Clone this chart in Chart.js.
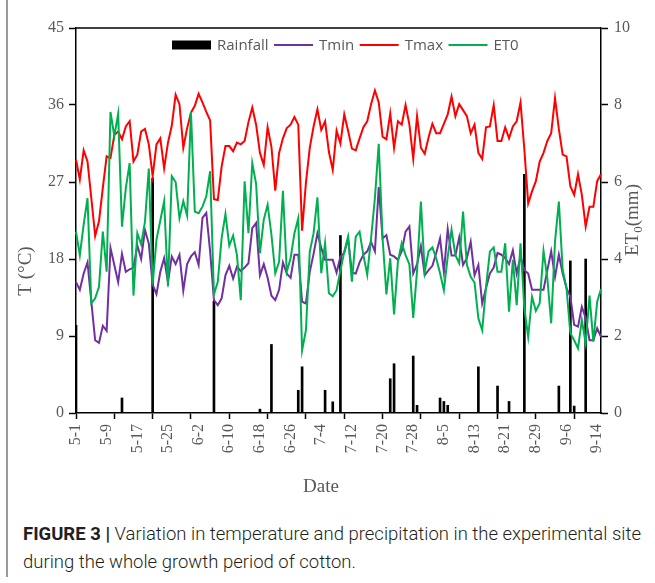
<!DOCTYPE html>
<html>
<head>
<meta charset="utf-8">
<script src="https://cdn.jsdelivr.net/npm/chart.js@4.4.1/dist/chart.umd.min.js"></script>
<style>
  html, body { margin: 0; padding: 0; background: #fff; }
  body { width: 655px; height: 583px; position: relative; overflow: hidden; }
  #frame { position: absolute; left: 6px; top: 0; height: 577px; border-left: 2px solid #9a9a9a; }
  #chart { position: absolute; left: 0; top: 0; }
  .cap { position: absolute; left: 23px; white-space: nowrap; font-family: Roboto, "Liberation Sans", sans-serif;
         font-size: 17.5px; line-height: 20px; color: #231f20; font-weight: 300; transform-origin: 0 0; }
  .cap b { font-weight: 700; }
</style>
</head>
<body>
<div id="frame"></div>
<canvas id="chart" width="655" height="505"></canvas>
<div class="cap" id="cap1" style="top:524px"><b>FIGURE 3 |</b> Variation in temperature and precipitation in the experimental site</div>
<div class="cap" id="cap2" style="top:552px">during the whole growth period of cotton.</div>
<script>
// daily values from 5-1 to 9-15
const tmax = [
  29.6, 27.3, 30.7, 29.4, 25.1, 20.7, 22.4, 26.3, 30.0, 29.8,
  32.5, 32.9, 32.0, 33.5, 34.1, 29.4, 30.2, 32.9, 33.2, 31.4,
  27.7, 31.4, 32.1, 28.6, 31.6, 33.6, 37.2, 36.1, 31.0, 33.3,
  35.1, 35.9, 37.3, 36.3, 35.2, 34.2, 25.0, 24.9, 28.8, 31.2,
  31.2, 30.6, 31.6, 31.4, 31.8, 34.0, 35.7, 33.7, 30.4, 29.0,
  33.4, 31.1, 26.0, 30.4, 32.1, 33.3, 33.7, 34.6, 33.7, 21.3,
  26.9, 31.0, 33.5, 35.5, 33.1, 34.1, 30.5, 28.4, 33.0, 31.5,
  34.9, 33.0, 30.9, 30.7, 32.1, 33.4, 34.1, 36.1, 37.7, 36.3,
  32.3, 32.0, 35.0, 31.0, 34.1, 33.7, 36.0, 33.7, 29.7, 34.7,
  31.0, 30.3, 32.2, 33.8, 32.7, 32.7, 33.8, 34.9, 37.0, 34.7,
  36.1, 35.4, 34.7, 32.7, 33.7, 30.4, 29.7, 33.4, 33.5, 36.0,
  31.8, 31.8, 33.4, 32.1, 33.5, 34.1, 36.3, 30.8, 24.5, 25.9,
  27.1, 29.4, 30.4, 31.8, 32.7, 36.8, 33.2, 30.2, 30.0, 26.5,
  25.5, 27.9, 25.5, 21.8, 24.1, 24.1, 27.1, 27.9
];
const tmin = [
  15.3, 14.4, 16.3, 17.6, 13.0, 8.5, 8.2, 10.2, 9.6, 19.3,
  17.3, 15.3, 18.6, 16.5, 16.8, 17.0, 19.6, 18.0, 21.4, 19.8,
  15.0, 13.9, 16.5, 18.1, 15.3, 18.3, 17.4, 18.5, 14.3, 17.4,
  18.3, 18.8, 17.3, 22.8, 23.4, 18.9, 13.2, 12.6, 13.4, 16.1,
  17.2, 15.7, 17.1, 16.6, 17.0, 17.5, 21.6, 22.2, 16.1, 17.4,
  15.8, 13.7, 13.2, 14.4, 17.6, 16.3, 15.8, 18.5, 18.5, 13.0,
  12.8, 16.5, 18.6, 21.0, 19.3, 17.9, 17.9, 17.9, 16.4, 18.3,
  18.7, 20.4, 16.4, 16.3, 17.6, 18.5, 18.9, 20.0, 18.9, 26.4,
  20.4, 20.8, 18.5, 18.3, 17.9, 18.9, 21.2, 21.8, 16.3, 17.4,
  19.5, 16.1, 16.7, 17.2, 18.7, 20.4, 16.5, 21.5, 18.4, 18.4,
  20.5, 17.3, 18.1, 20.0, 16.1, 17.3, 12.8, 14.6, 16.3, 17.0,
  18.7, 18.5, 18.1, 17.4, 19.0, 16.3, 18.3, 16.7, 16.3, 14.4,
  14.4, 14.4, 14.4, 16.7, 18.9, 15.9, 18.5, 16.3, 14.6, 13.6,
  10.3, 10.1, 12.4, 11.1, 8.5, 8.5, 9.9, 8.9
];
const et0 = [
  4.71, 4.10, 4.89, 5.58, 2.85, 2.98, 3.28, 4.71, 3.67, 7.82,
  7.19, 7.77, 4.84, 5.84, 6.49, 3.05, 4.67, 4.38, 4.97, 6.35,
  3.34, 4.50, 5.00, 5.50, 3.30, 6.15, 6.00, 5.06, 5.50, 5.13,
  7.82, 5.23, 5.19, 5.36, 5.63, 6.28, 3.08, 3.41, 4.54, 5.17,
  4.35, 4.61, 4.10, 2.93, 6.02, 4.67, 6.49, 5.95, 4.15, 5.02,
  5.41, 4.63, 3.63, 3.93, 5.77, 3.67, 4.02, 4.67, 5.06, 1.63,
  2.15, 4.19, 4.67, 5.60, 3.63, 4.41, 3.11, 3.03, 3.19, 3.70,
  4.19, 4.58, 3.41, 4.58, 4.71, 4.10, 3.59, 4.54, 5.58, 6.99,
  4.54, 3.08, 4.02, 2.56, 3.93, 4.41, 4.10, 3.86, 2.47, 3.69,
  5.49, 3.67, 4.20, 4.30, 4.02, 3.63, 3.19, 4.06, 4.76, 4.10,
  3.89, 5.23, 3.85, 3.54, 3.39, 2.46, 2.15, 3.28, 4.19, 4.30,
  3.67, 3.67, 4.41, 2.63, 3.98, 2.80, 4.41, 2.72, 1.98, 3.02,
  2.65, 2.85, 4.21, 3.50, 2.33, 4.45, 5.49, 3.72, 3.24, 2.07,
  1.89, 1.68, 2.41, 1.81, 3.05, 1.85, 2.89, 3.22
];
// rain events: day index (0 = 5-1) and amount in mm
const rainDay = [0, 12, 20, 36, 48, 51, 58, 59, 65, 67, 69, 82, 83, 88, 89, 95, 96, 97, 105, 110, 113, 117, 126, 129, 130, 133];
const rainMm  = [2.28, 0.39, 6.1, 2.9, 0.1, 1.78, 0.59, 1.2, 0.59, 0.29, 4.61, 0.89, 1.28, 1.48, 0.2, 0.39, 0.3, 0.2, 1.2, 0.7, 0.3, 6.2, 0.7, 3.95, 0.18, 4.0];

const monthLength = {5: 31, 6: 30, 7: 31, 8: 31, 9: 30};
const categories = [];
let mon = 5, day = 1;
for (let i = 0; i < tmax.length; i++) {
  categories.push(mon + '-' + day);
  day++;
  if (day > monthLength[mon]) { mon++; day = 1; }
}
const labelEvery = 8;   // a date label every 8 days
const markEvery = 10;   // a tick mark every 10 days

const rainfall = categories.map(() => null);
rainDay.forEach((d, i) => { rainfall[d] = rainMm[i]; });

const GREY = '#595959';
const SERIF = '"Liberation Serif", "Times New Roman", serif';

const decorations = {
  id: 'decorations',
  afterDraw(chart) {
    const {ctx, chartArea: a} = chart;
    ctx.save();
    ctx.strokeStyle = '#000';
    ctx.lineWidth = 1.5;
    ctx.beginPath();
    ctx.moveTo(a.left, a.top);
    ctx.lineTo(a.right, a.top);
    ctx.stroke();

    // legend inside the plot, along the top
    ctx.font = '15px "Open Sans", sans-serif';
    ctx.textAlign = 'left';
    ctx.textBaseline = 'middle';
    let lx = 172;
    const ly = 45;
    chart.data.datasets.forEach(ds => {
      if (ds.type === 'bar') {
        ctx.fillStyle = ds.backgroundColor;
        ctx.fillRect(lx, ly - 4.5, 39, 9);
      } else {
        ctx.strokeStyle = ds.borderColor;
        ctx.lineWidth = 2;
        ctx.beginPath();
        ctx.moveTo(lx, ly);
        ctx.lineTo(lx + 39, ly);
        ctx.stroke();
      }
      ctx.fillStyle = GREY;
      ctx.fillText(ds.label, lx + 45, ly + 1);
      lx += 45 + ctx.measureText(ds.label).width + 5.5;
    });

    ctx.fillStyle = GREY;
    ctx.textAlign = 'center';
    ctx.textBaseline = 'middle';
    ctx.font = '19px ' + SERIF;
    ctx.fillText('Date', 321, 487);

    ctx.save();
    ctx.translate(26, 271);
    ctx.rotate(-Math.PI / 2);
    ctx.fillText('T (\u00B0C)', 0, 0);
    ctx.restore();

    // ET0(mm) with subscript
    ctx.save();
    ctx.translate(632, 220);
    ctx.rotate(-Math.PI / 2);
    ctx.textAlign = 'left';
    ctx.textBaseline = 'alphabetic';
    const big = '19px ' + SERIF, small = '13px ' + SERIF;
    ctx.font = big;
    const w1 = ctx.measureText('ET').width;
    const w3 = ctx.measureText('(mm)').width;
    ctx.font = small;
    const w2 = ctx.measureText('0').width;
    let x = -(w1 + w2 + w3) / 2;
    ctx.font = big;
    ctx.fillText('ET', x, 6);
    x += w1;
    ctx.font = small;
    ctx.fillText('0', x, 10);
    x += w2;
    ctx.font = big;
    ctx.fillText('(mm)', x, 6);
    ctx.restore();
    ctx.restore();
  }
};

new Chart(document.getElementById('chart'), {
  data: {
    labels: categories,
    datasets: [
      {type: 'bar', label: 'Rainfall', data: rainfall, yAxisID: 'y1', backgroundColor: '#000',
       barThickness: 2, order: 4},
      {type: 'line', label: 'Tmin', data: tmin, yAxisID: 'y', borderColor: '#7030A0', borderWidth: 2,
       pointRadius: 0, tension: 0, order: 3},
      {type: 'line', label: 'Tmax', data: tmax, yAxisID: 'y', borderColor: '#FF0000', borderWidth: 2,
       pointRadius: 0, tension: 0, order: 2},
      {type: 'line', label: 'ET0', data: et0, yAxisID: 'y1', borderColor: '#00B050', borderWidth: 2,
       pointRadius: 0, tension: 0, order: 1}
    ]
  },
  options: {
    responsive: false,
    animation: false,
    devicePixelRatio: 1,
    layout: {padding: {top: 28, left: 0, right: 0, bottom: 0}},
    scales: {
      x: {
        offset: false,
        grid: {
          offset: false, drawOnChartArea: false, tickLength: 6, tickWidth: 1.5,
          tickColor: c => c.index % markEvery === 0 ? '#000' : 'rgba(0,0,0,0)'
        },
        border: {color: '#000', width: 1.5},
        ticks: {
          autoSkip: false, maxRotation: 90, minRotation: 90, padding: 5, color: GREY,
          font: {family: SERIF, size: 16},
          callback: (v, i) => i % labelEvery === 0 ? categories[i] : ''
        },
        afterFit: s => { s.height = 92; }
      },
      y: {
        position: 'left', min: 0, max: 45,
        ticks: {stepSize: 9, padding: 5, color: GREY, font: {family: SERIF, size: 16}},
        grid: {drawOnChartArea: false, tickLength: 7, tickColor: '#000', tickWidth: 1.5},
        border: {color: '#000', width: 1.5},
        afterFit: s => { s.width = 76; }
      },
      y1: {
        position: 'right', min: 0, max: 10,
        ticks: {stepSize: 2, padding: 6, color: GREY, font: {family: SERIF, size: 16}},
        grid: {drawOnChartArea: false, tickLength: 7, tickColor: '#000', tickWidth: 1.5},
        border: {color: '#000', width: 1.5},
        afterFit: s => { s.width = 54; }
      }
    },
    plugins: {
      legend: {display: false},
      tooltip: {enabled: false}
    }
  },
  plugins: [decorations]
});

// fit caption lines to the reference line width
const c1 = document.getElementById('cap1'), c2 = document.getElementById('cap2');
const k = 618 / c1.getBoundingClientRect().width;
c1.style.transform = c2.style.transform = 'scaleX(' + k + ')';
</script>
</body>
</html>
